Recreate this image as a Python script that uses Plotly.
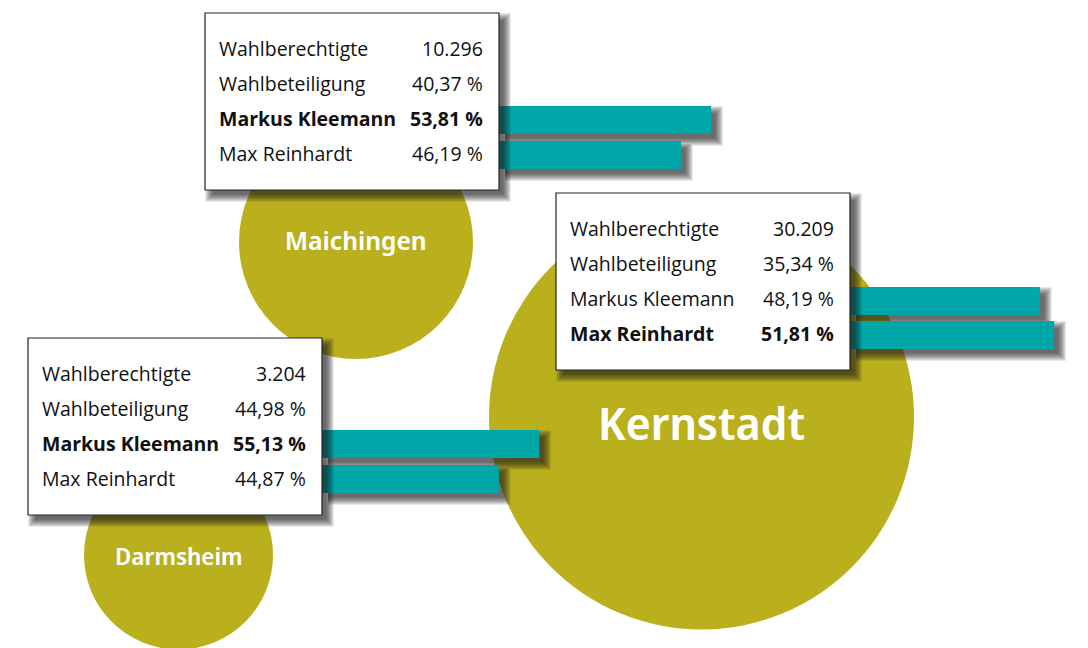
import plotly.graph_objects as go

# data
districts = ["Maichingen", "Kernstadt", "Darmsheim"]
row_labels = ["Wahlberechtigte", "Wahlbeteiligung", "Markus Kleemann", "Max Reinhardt"]
eligible = ["10.296", "30.209", "3.204"]
turnout = [40.37, 35.34, 44.98]
kleemann = [53.81, 48.19, 55.13]
reinhardt = [46.19, 51.81, 44.87]

# layout, all in pixels of the 1088x648 page
W, H = 1088, 648
PX_PER_PCT = 3.94
OLIVE = "#BAAF1C"
TEAL = "#00A7A8"
FONT = "Open Sans"
LABEL_FONT = "Noto Sans Display, Open Sans"

circle_x = [356, 701.5, 178.5]
circle_y = [242, 417, 555]
circle_d = [234, 425, 189]
label_y = [240, 422, 556]
label_size = [26, 45, 23.6]
box_left = [205, 556, 28]
box_top = [13, 193, 338]
box_w, box_h = 294, 177
bar_y = [[120, 155], [301, 335], [444, 479]]
shadow_spread = [s / 2 for s in range(12, -5, -1)]  # 6 down to -2, half pixel steps
shadow_alpha = 0.06


def fmt(v):
    return f"{v:.2f}".replace(".", ",") + " %"


fig = go.Figure()

# circles sit on the lower axes so the bars can go over them
fig.add_trace(go.Scatter(
    x=circle_x, y=circle_y, mode="markers",
    marker=dict(size=circle_d, sizemode="diameter", color=OLIVE, line=dict(width=0), opacity=1),
    hoverinfo="skip", xaxis="x", yaxis="y",
))

bar_base = []
bar_pos = []
bar_val = []
for i in range(3):
    for pos, val in zip(bar_y[i], (kleemann[i], reinhardt[i])):
        bar_base.append(box_left[i] + box_w)
        bar_pos.append(pos)
        bar_val.append(val)

# soft shadow from stacked see-through bars
for spread in shadow_spread:
    fig.add_trace(go.Bar(
        x=[v + spread / PX_PER_PCT for v in bar_val],
        y=[p + 6 for p in bar_pos],
        base=[(b + 6) / PX_PER_PCT for b in bar_base],
        width=28 + 2 * spread,
        orientation="h", marker=dict(color="#2a2a2a", line=dict(width=0)), opacity=shadow_alpha,
        hoverinfo="skip", xaxis="x2", yaxis="y2",
    ))
fig.add_trace(go.Bar(
    x=bar_val, y=bar_pos,
    base=[b / PX_PER_PCT for b in bar_base],
    width=28,
    orientation="h", marker=dict(color=TEAL, line=dict(width=0)),
    hoverinfo="skip", xaxis="x2", yaxis="y2",
))

shapes = []
annotations = []
for i in range(3):
    left, top = box_left[i], box_top[i]
    for spread in shadow_spread:
        shapes.append(dict(
            type="rect", layer="above", xref="x", yref="y",
            x0=left + 6 - spread, x1=left + box_w + 6 + spread,
            y0=top + 6 - spread, y1=top + box_h + 6 + spread,
            fillcolor="#2a2a2a", opacity=shadow_alpha, line=dict(width=0),
        ))
    shapes.append(dict(
        type="rect", layer="above", xref="x", yref="y",
        x0=left, x1=left + box_w, y0=top, y1=top + box_h,
        fillcolor="white", line=dict(color="#222222", width=1.2),
    ))

    values = [eligible[i], fmt(turnout[i]), fmt(kleemann[i]), fmt(reinhardt[i])]
    # winner of the district is set in bold
    bold_row = 2 if kleemann[i] > reinhardt[i] else 3
    for r, (lab, val) in enumerate(zip(row_labels, values)):
        y = top + 35.5 + r * 35
        if r == bold_row:
            lab, val = f"<b>{lab}</b>", f"<b>{val}</b>"
        annotations.append(dict(
            x=left + 12, y=y, text=lab, xanchor="left", yanchor="middle", showarrow=False,
            xref="x", yref="y", font=dict(family=FONT, size=19.5, color="#111111"),
        ))
        annotations.append(dict(
            x=left + box_w - 14, y=y, text=val, xanchor="right", yanchor="middle", showarrow=False,
            xref="x", yref="y", font=dict(family=FONT, size=19.5, color="#111111"),
        ))

    annotations.append(dict(
        x=circle_x[i], y=label_y[i], text=districts[i],
        xanchor="center", yanchor="middle", showarrow=False, xref="x", yref="y",
        font=dict(family=LABEL_FONT, size=label_size[i], weight=600, color="white"),
    ))

hidden = dict(visible=False, showgrid=False, zeroline=False, fixedrange=True)
fig.update_layout(
    width=W, height=H, margin=dict(l=0, r=0, t=0, b=0),
    paper_bgcolor="white", plot_bgcolor="white", showlegend=False, barmode="overlay",
    xaxis=dict(range=[0, W], **hidden),
    yaxis=dict(range=[H, 0], **hidden),
    xaxis2=dict(range=[0, W / PX_PER_PCT], overlaying="x", **hidden),
    yaxis2=dict(range=[H, 0], overlaying="y", **hidden),
    shapes=shapes, annotations=annotations,
)

fig.write_html("out.html", config={"displayModeBar": False},
               post_script="document.body.style.margin='0';")
